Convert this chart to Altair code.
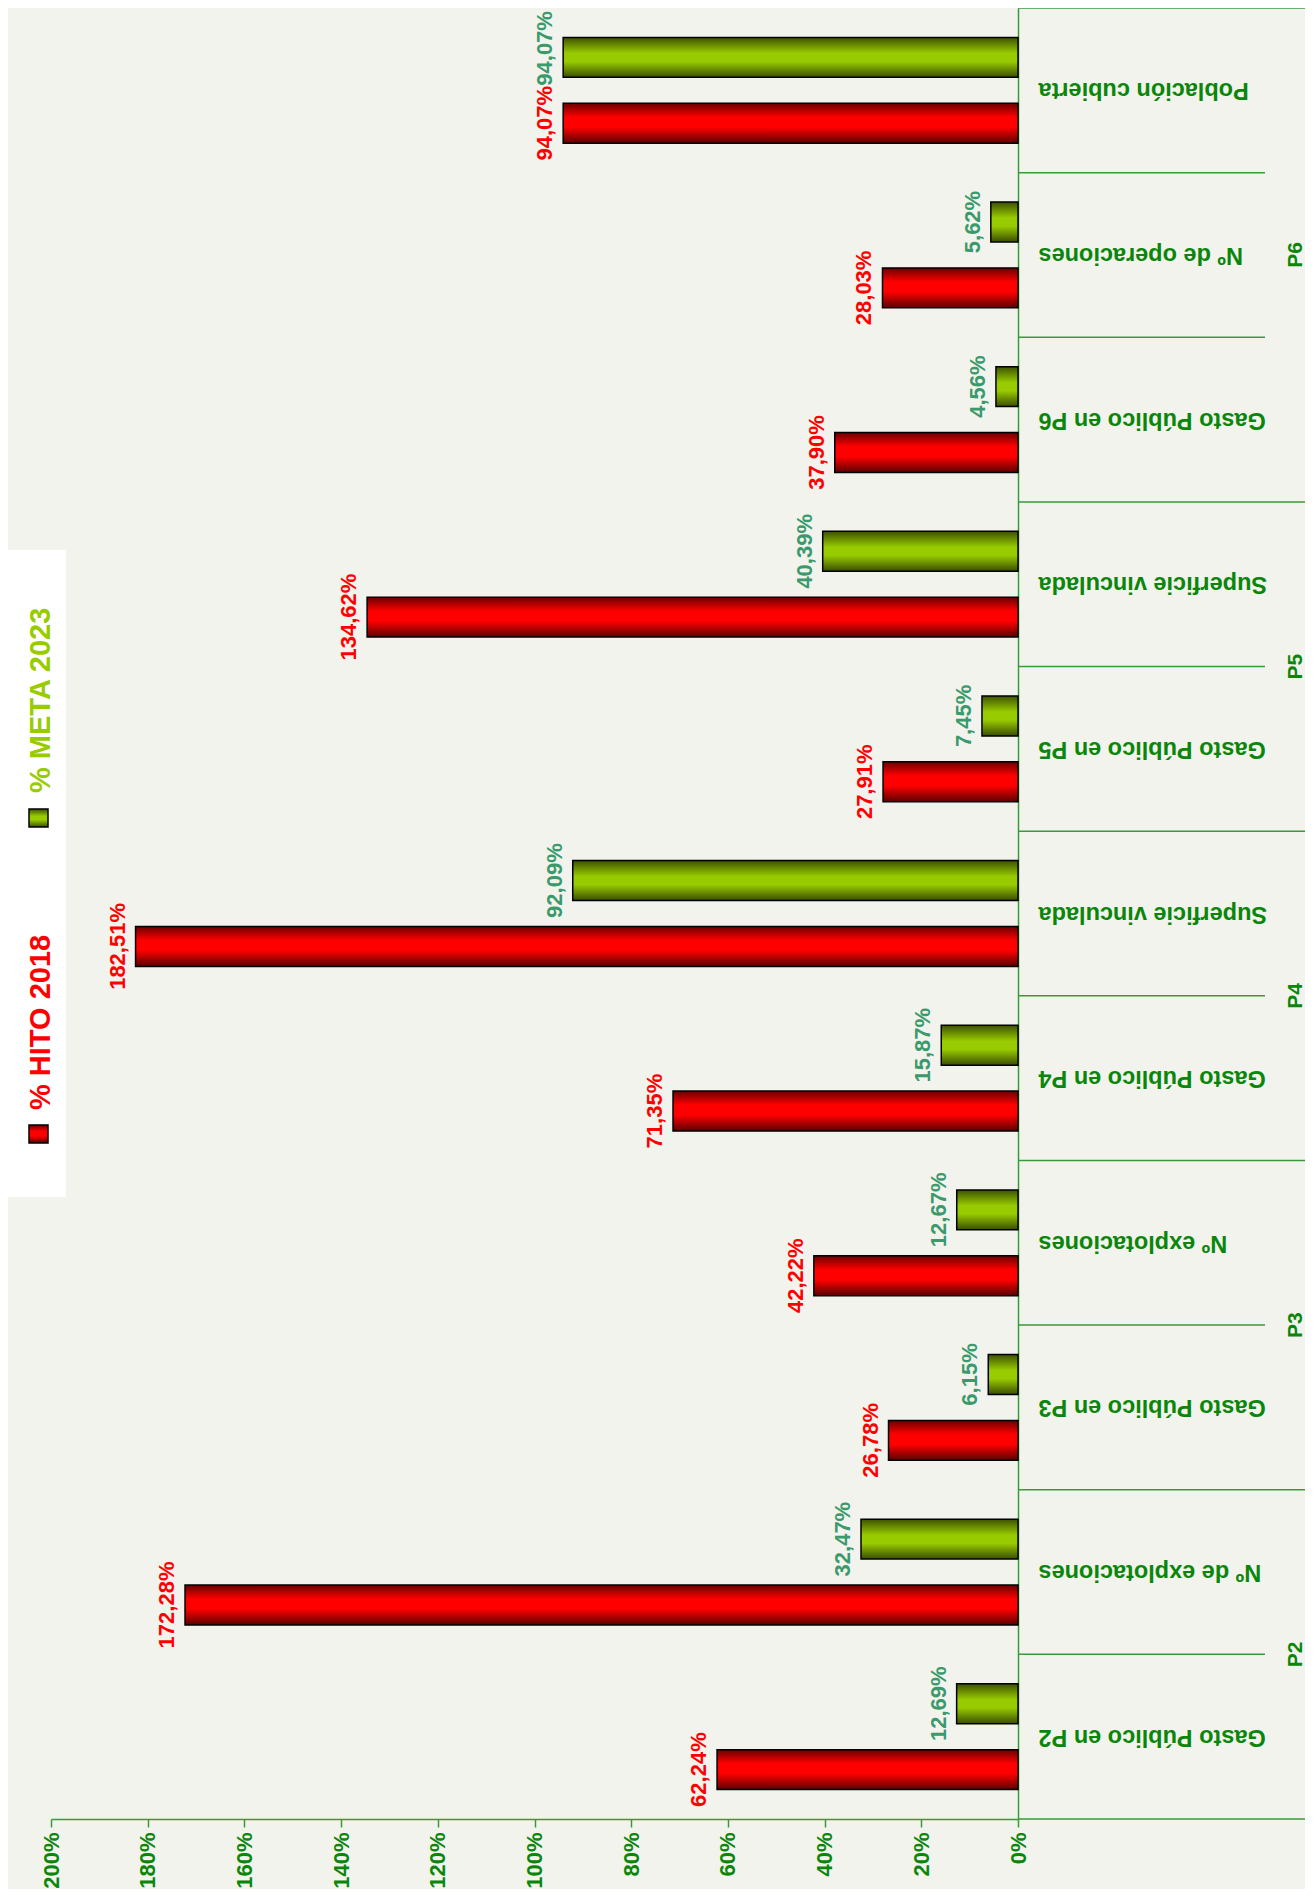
import altair as alt
import pandas as pd

# ---------------- data ----------------
groups = ["P2", "P2", "P3", "P3", "P4", "P4", "P5", "P5", "P6", "P6", "P6"]
indicators = [
    "Gasto Público en P2", "Nº de explotaciones",
    "Gasto Público en P3", "Nº explotaciones",
    "Gasto Público en P4", "Superficie vinculada",
    "Gasto Público en P5", "Superficie vinculada",
    "Gasto Público en P6", "Nº de operaciones", "Población cubierta",
]
hito_2018 = [62.24, 172.28, 26.78, 42.22, 71.35, 182.51, 27.91, 134.62, 37.90, 28.03, 94.07]
meta_2023 = [12.69, 32.47, 6.15, 12.67, 15.87, 92.09, 7.45, 40.39, 4.56, 5.62, 94.07]
series_names = ["% HITO 2018", "% META 2023"]
x_ticks = [0, 20, 40, 60, 80, 100, 120, 140, 160, 180, 200]

# ---------------- tables ----------------
keys = [f"{g}|{ind}" for g, ind in zip(groups, indicators)]


def fmt(v):
    return f"{v:.2f}".replace(".", ",") + "%"


rows = []
for k, g, h, m in zip(keys, groups, hito_2018, meta_2023):
    rows.append(dict(key=k, group=g, series="HITO", value=h, label=fmt(h)))
    rows.append(dict(key=k, group=g, series="META", value=m, label=fmt(m)))
df = pd.DataFrame(rows)

n = len(keys)
bounds = []
for i in range(n + 1):
    long = i == 0 or i == n or groups[i] != groups[i - 1]
    bounds.append(dict(idx=i, long=long))
bounds_df = pd.DataFrame(bounds)

grp_rows = []
for g in dict.fromkeys(groups):
    ids = [i for i, gg in enumerate(groups) if gg == g]
    grp_rows.append(dict(group=g, mid=(ids[0] + ids[-1] + 1) / 2))
grp_df = pd.DataFrame(grp_rows)

# ---------------- style ----------------
W, H = 967, 1811
PAD_L, PAD_R, PAD_T, PAD_B = 43, 287, 0, 70
GREEN_TXT = "#0a860a"
LINE = "#3a9a3a"
FONT = "Liberation Sans"

red_grad = alt.Gradient(
    gradient="linear", x1=0, x2=0, y1=0, y2=1,
    stops=[
        alt.GradientStop(offset=0, color="#6b0000"),
        alt.GradientStop(offset=0.35, color="#ff0000"),
        alt.GradientStop(offset=0.6, color="#ff0000"),
        alt.GradientStop(offset=1, color="#5a0000"),
    ],
)
green_grad = alt.Gradient(
    gradient="linear", x1=0, x2=0, y1=0, y2=1,
    stops=[
        alt.GradientStop(offset=0, color="#3d5200"),
        alt.GradientStop(offset=0.4, color="#99cc00"),
        alt.GradientStop(offset=0.6, color="#99cc00"),
        alt.GradientStop(offset=1, color="#3a4d00"),
    ],
)

x_enc = alt.X(
    "value:Q",
    scale=alt.Scale(domain=[0, 200], reverse=True, nice=False),
    axis=alt.Axis(
        values=x_ticks, labelExpr="datum.value + '%'", labelAngle=270,
        labelAlign="right", labelBaseline="middle",
        labelFontSize=22, labelFontWeight="bold", labelColor=GREEN_TXT,
        labelPadding=5, tickSize=8, tickColor=LINE, tickWidth=1.5,
        domainColor=LINE, domainWidth=1.5, grid=False, title=None,
    ),
)
y_enc = alt.Y(
    "key:N",
    sort=list(reversed(keys)),
    scale=alt.Scale(paddingInner=0, paddingOuter=0),
    axis=alt.Axis(
        orient="right", labelExpr="split(datum.label, '|')[1]",
        labelAngle=180, labelAlign="right", labelBaseline="middle",
        labelFontSize=23.5, labelFontWeight="bold", labelColor=GREEN_TXT,
        labelPadding=20, labelLimit=400, ticks=False,
        domainColor=LINE, domainWidth=1.5, grid=False, title=None,
    ),
)
yoff = alt.YOffset(
    "series:N",
    scale=alt.Scale(domain=["META", "HITO"], paddingInner=0.394, paddingOuter=0.447),
)

base = alt.Chart(df)

bars_h = base.transform_filter(alt.datum.series == "HITO").mark_bar(
    fill=red_grad, stroke="black", strokeWidth=1.5
).encode(x=x_enc, y=y_enc, yOffset=yoff)
bars_m = base.transform_filter(alt.datum.series == "META").mark_bar(
    fill=green_grad, stroke="black", strokeWidth=1.5
).encode(x=x_enc, y=y_enc, yOffset=yoff)

txt_kw = dict(angle=270, align="center", baseline="alphabetic", dy=-11,
              fontSize=22, fontWeight="bold")
lab_h = base.transform_filter(alt.datum.series == "HITO").mark_text(
    color="#ff0000", **txt_kw
).encode(x=x_enc, y=y_enc, yOffset=yoff, text="label:N")
lab_m = base.transform_filter(
    (alt.datum.series == "META") & (alt.datum.key != keys[-1])
).mark_text(color="#3a9a6c", **txt_kw).encode(
    x=x_enc, y=y_enc, yOffset=yoff, text="label:N")
lab_m_top = base.transform_filter(
    (alt.datum.series == "META") & (alt.datum.key == keys[-1])
).mark_text(color="#3a9a6c", dx=9, **txt_kw).encode(
    x=x_enc, y=y_enc, yOffset=yoff, text="label:N")

main = alt.layer(bars_h, bars_m, lab_h, lab_m, lab_m_top)

# separators and group labels (category-index scale, 0 = bottom)
y_idx = alt.Y("idx:Q", scale=alt.Scale(domain=[0, n], nice=False), axis=None)
rules_long = alt.Chart(bounds_df).transform_filter(alt.datum.long).mark_rule(
    color=LINE, strokeWidth=1.5
).encode(y=y_idx, x=alt.value(W), x2=alt.value(W + 287))
rules_short = alt.Chart(bounds_df).transform_filter(~alt.datum.long).mark_rule(
    color=LINE, strokeWidth=1.5
).encode(y=y_idx, x=alt.value(W), x2=alt.value(W + 247))
grp_text = alt.Chart(grp_df).mark_text(
    angle=270, align="center", baseline="middle", fontSize=21,
    fontWeight="bold", color=GREEN_TXT
).encode(
    y=alt.Y("mid:Q", scale=alt.Scale(domain=[0, n], nice=False), axis=None),
    x=alt.value(1245), text="group:N",
)
side = alt.layer(rules_long, rules_short, grp_text)

# legend
one = pd.DataFrame({"a": [0]})
legend_box = alt.Chart(one).mark_rect(fill="white").encode(
    x=alt.value(-44), x2=alt.value(15), y=alt.value(542), y2=alt.value(1189))

leg_layers = []
leg_fills = [red_grad, green_grad]
leg_colors = ["#ff0000", "#99cc00"]
leg_sq_y = [1117, 801]
leg_txt_y = [1102, 785]
for name, fill, col, sy, ty in zip(series_names, leg_fills, leg_colors, leg_sq_y, leg_txt_y):
    leg_layers.append(
        alt.Chart(one).mark_rect(fill=fill, stroke="black", strokeWidth=1.5).encode(
            x=alt.value(-22), x2=alt.value(-3), y=alt.value(sy), y2=alt.value(sy + 18))
    )
    leg_layers.append(
        alt.Chart(pd.DataFrame({"t": [name]})).mark_text(
            angle=270, align="left", baseline="alphabetic", fontSize=29,
            fontWeight="bold", color=col
        ).encode(x=alt.value(-1), y=alt.value(ty), text="t:N")
    )

chart = alt.layer(legend_box, main, side, *leg_layers).resolve_scale(
    y="independent"
).properties(
    width=W, height=H,
    padding={"left": PAD_L, "right": PAD_R, "top": PAD_T, "bottom": PAD_B},
    autosize=alt.AutoSizeParams(type="none"),
    background="#f3f3ee",
).configure(font=FONT).configure_view(strokeWidth=0)

chart.save("out.html", embed_options={"renderer": "svg", "actions": False})
